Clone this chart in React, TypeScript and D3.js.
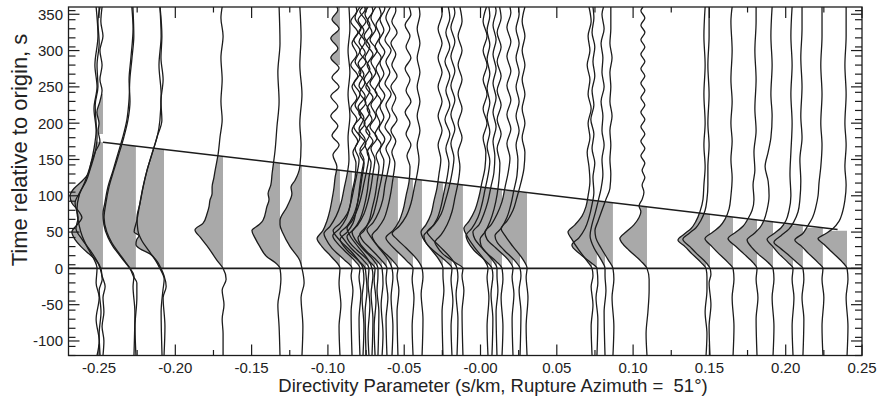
import React from 'react';
import * as d3 from 'd3';

// Axis extents (directivity parameter in s/km, time in s)
const X_DOMAIN: [number, number] = [-0.27, 0.25];
const Y_DOMAIN: [number, number] = [-120, 360];

const X_TICKS = [-0.25, -0.2, -0.15, -0.1, -0.05, 0, 0.05, 0.1, 0.15, 0.2, 0.25];
const X_TICK_LABELS = ['-0.25', '-0.20', '-0.15', '-0.10', '-0.05', '-0.00', '0.05', '0.10', '0.15', '0.20', '0.25'];
const X_MINOR = [-0.225, -0.175, -0.125, -0.075, -0.025, 0.025, 0.075, 0.125, 0.175, 0.225];
const Y_TICKS = [-100, -50, 0, 50, 100, 150, 200, 250, 300, 350];
const Y_MINOR_STEP = 12.5;

// Duration line: T(p) = T0 - L * p
const DURATION_T0 = 112;
const DURATION_SLOPE = 250;
const DURATION_LINE_P: [number, number] = [-0.2474, 0.234];

// One amplitude unit = AMP_UNIT s/km of leftward deflection
const AMP_UNIT = 0.0002;

// Station directivity parameters (s/km)
const TRACE_P = [
  -0.2474, -0.2493, -0.2513, -0.2258, -0.2271, -0.2074, -0.2087, -0.1687, -0.1314, -0.117,
  -0.0921, -0.0842,
  -0.079, -0.077, -0.075, -0.0731, -0.0711, -0.0691, -0.0672, -0.0645, -0.0613, -0.058, -0.0541,
  -0.0442, -0.0383,
  -0.0246, -0.0187, -0.0154, -0.0115,
  0.0049, 0.0075, 0.0108, 0.0141, 0.0213, 0.0259, 0.0305,
  0.0731, 0.0763, 0.0816, 0.0868,
  0.1091,
  0.1478, 0.1504, 0.1655, 0.1812, 0.1917, 0.2048, 0.2113, 0.2244, 0.2402,
];

// Relative source time functions: flat [time, amplitude, time, amplitude, ...]
const TRACE_KNOTS: number[][] = [
  [-120,0, -100,-3, -80,3, -60,-3, -40,0, -25,-7, -10,3, 0,7, 10,20, 20,46, 30,72, 40,92, 50,102, 60,85, 70,69, 80,82, 90,102, 100,108, 110,95, 120,69, 130,49, 145,39, 160,26, 175,10, 190,16, 200,13, 215,20, 230,10, 245,3, 260,10, 280,3, 300,10, 320,0, 340,7, 360,3],
  [-120,0, -90,3, -60,-3, -30,3, -15,-7, 0,0, 10,10, 25,33, 40,59, 55,79, 70,72, 90,82, 105,66, 120,46, 140,30, 160,16, 180,10, 200,13, 225,16, 250,7, 280,10, 310,3, 340,7, 360,0],
  [-120,0, -100,-7, -70,3, -40,-7, -20,3, 0,0, 15,13, 30,33, 45,49, 60,59, 80,66, 100,59, 120,39, 140,23, 165,10, 190,3, 220,10, 250,0, 280,7, 320,-3, 360,3],
  [-120,0, -80,3, -40,-3, -20,-3, -12,7, 0,20, 10,39, 21,59, 30,75, 43,92, 60,105, 75,108, 90,102, 112,92, 135,75, 158,59, 181,43, 204,30, 230,23, 260,20, 290,13, 320,7, 360,10],
  [-120,0, -60,-3, -25,3, -10,0, 0,13, 10,30, 21,49, 35,72, 50,89, 70,98, 90,92, 112,82, 135,66, 158,49, 181,33, 204,20, 230,13, 260,16, 290,10, 330,3, 360,7],
  [-120,0, -80,-3, -40,3, -25,-7, -10,0, 0,10, 10,23, 20,46, 27,79, 33,92, 40,89, 45,82, 50,98, 66,89, 90,79, 112,69, 135,56, 158,39, 181,23, 204,7, 230,10, 260,3, 290,10, 320,7, 360,13],
  [-120,0, -60,3, -30,-3, -15,-7, 0,7, 12,23, 24,43, 38,66, 52,79, 70,82, 90,72, 112,62, 135,49, 158,33, 181,16, 204,7, 240,3, 280,10, 320,3, 360,7],
  [-120,0, -90,0, -70,3, -50,-3, -30,3, -15,-10, 0,0, 11,20, 29,49, 43,75, 53,92, 62,66, 76,52, 85,46, 94,43, 103,36, 112,36, 125,30, 135,26, 158,16, 181,10, 205,3, 230,7, 260,3, 290,7, 320,0, 345,7, 360,3],
  [-120,0, -80,3, -50,7, -30,0, -15,-3, 0,0, 8,16, 16,43, 30,66, 42,82, 52,92, 60,69, 66,56, 85,43, 95,36, 103,39, 115,30, 130,26, 163,16, 195,10, 230,3, 270,7, 310,0, 360,3],
  [-120,0, -80,-3, -40,3, -20,-7, 0,0, 11,7, 30,39, 48,62, 60,72, 66,72, 85,49, 103,33, 112,36, 121,23, 140,7, 170,3, 200,7, 240,0, 280,7, 320,3, 360,7],
  [-120,0, -80,3, -50,-3, -20,3, 0,0, 15,26, 30,59, 41,75, 52,56, 65,43, 80,33, 95,26, 110,20, 125,16, 140,10, 156,23, 170,3, 183,26, 196,7, 210,30, 223,7, 237,30, 250,3, 263,26, 276,3, 290,30, 303,7, 317,30, 330,3, 343,26, 356,7, 360,10],
  [-120,0, -60,3, -30,-3, -10,3, 0,0, 12,26, 28,66, 40,85, 48,92, 58,72, 72,52, 90,36, 110,26, 130,16, 150,10, 180,13, 210,7, 240,13, 270,7, 300,13, 330,7, 360,10],
  [-120,0, -70,3, -35,-3, -12,3, 0,0, 10,16, 25,52, 35,75, 45,89, 55,66, 68,46, 85,33, 105,26, 125,16, 145,13, 160,23, 175,7, 190,26, 205,10, 220,30, 235,10, 250,26, 265,7, 280,30, 295,10, 310,26, 325,7, 340,30, 355,10, 360,13],
  [-120,0, -80,-3, -40,3, -15,-3, 0,0, 10,13, 25,43, 40,79, 52,98, 62,75, 75,52, 92,39, 110,30, 130,20, 150,13, 165,26, 180,10, 195,30, 210,7, 225,26, 240,10, 255,30, 270,7, 285,26, 300,10, 315,30, 330,7, 345,26, 360,10],
  [-120,0, -60,3, -30,-3, -10,0, 0,3, 10,23, 25,62, 40,85, 50,62, 62,43, 78,33, 95,26, 115,20, 135,13, 150,7, 163,20, 177,3, 192,23, 207,7, 222,26, 237,3, 252,23, 267,7, 282,26, 297,3, 312,23, 327,7, 342,26, 357,3, 360,5],
  [-120,0, -90,3, -50,-3, -20,3, 0,0, 12,20, 28,59, 40,82, 48,95, 58,72, 72,52, 88,39, 105,30, 125,23, 145,16, 158,30, 172,10, 186,33, 200,13, 214,33, 228,10, 242,30, 256,13, 270,33, 284,10, 298,30, 312,13, 326,33, 340,10, 354,30, 360,20],
  [-120,0, -70,-3, -35,3, -10,-3, 0,0, 12,13, 30,46, 45,72, 55,82, 65,66, 80,49, 98,36, 118,26, 138,16, 155,10, 170,23, 185,7, 200,26, 215,7, 230,23, 245,7, 260,26, 275,7, 290,23, 305,7, 320,26, 335,7, 350,23, 360,13],
  [-120,0, -80,3, -45,-3, -15,3, 0,0, 10,20, 25,59, 35,82, 44,92, 54,69, 68,49, 85,36, 105,26, 125,20, 145,13, 160,26, 175,7, 190,30, 205,10, 220,26, 235,7, 250,30, 265,10, 280,26, 295,7, 310,30, 325,10, 340,26, 355,7, 360,10],
  [-120,0, -60,-3, -30,3, -10,0, 0,0, 12,16, 28,52, 40,75, 50,85, 60,66, 75,46, 92,33, 112,23, 132,16, 150,10, 165,23, 180,3, 195,26, 210,7, 225,23, 240,3, 255,26, 270,7, 285,23, 300,3, 315,26, 330,7, 345,23, 360,7],
  [-120,0, -90,-3, -50,3, -20,-3, 0,0, 10,16, 24,52, 34,72, 42,79, 52,59, 65,43, 82,33, 100,23, 120,16, 140,10, 155,20, 170,3, 185,23, 200,7, 215,20, 230,3, 245,23, 260,7, 275,20, 290,3, 305,23, 320,7, 335,20, 350,3, 360,10],
  [-120,0, -70,3, -40,-3, -15,3, 0,0, 12,20, 28,56, 38,79, 47,89, 57,69, 70,49, 88,36, 108,26, 128,16, 148,10, 163,23, 178,7, 193,26, 208,10, 223,23, 238,7, 253,26, 268,10, 283,23, 298,7, 313,26, 328,10, 343,23, 358,7, 360,8],
  [-120,0, -80,-3, -40,3, -12,-3, 0,0, 12,13, 30,46, 43,69, 53,82, 63,62, 78,43, 95,30, 115,23, 135,13, 150,7, 165,20, 180,3, 195,23, 210,7, 225,20, 240,3, 255,23, 270,7, 285,20, 300,3, 315,23, 330,7, 345,20, 360,5],
  [-120,0, -60,3, -30,-3, -10,3, 0,0, 10,16, 25,52, 36,75, 45,85, 55,66, 68,46, 85,33, 105,23, 125,16, 145,10, 160,20, 175,7, 190,23, 205,3, 220,20, 235,7, 250,23, 265,3, 280,20, 295,7, 310,23, 325,3, 340,20, 355,7, 360,8],
  [-120,0, -80,3, -40,-3, -15,3, 0,0, 10,20, 25,56, 35,79, 42,89, 52,66, 65,46, 80,33, 100,23, 120,13, 140,10, 155,20, 170,7, 185,23, 200,10, 215,26, 230,7, 245,23, 260,10, 275,26, 290,7, 305,23, 320,10, 335,26, 350,7, 360,13],
  [-120,0, -70,-3, -35,3, -12,-3, 0,0, 12,16, 28,52, 40,82, 48,98, 58,75, 72,52, 90,36, 110,26, 130,16, 150,10, 170,16, 190,7, 210,16, 230,7, 250,16, 270,7, 290,16, 310,7, 330,16, 350,7, 360,10],
  [-120,0, -60,3, -30,-3, -10,0, 0,0, 12,13, 30,46, 42,66, 50,72, 60,56, 75,39, 92,30, 110,20, 130,13, 150,7, 170,16, 190,3, 210,16, 230,3, 250,16, 270,3, 290,16, 310,3, 330,16, 350,3, 360,5],
  [-120,0, -80,3, -45,-3, -15,3, 0,0, 10,20, 25,62, 35,85, 45,92, 55,69, 68,49, 85,36, 105,26, 125,16, 145,10, 165,20, 185,7, 205,23, 225,7, 245,20, 265,7, 285,23, 305,7, 325,20, 345,7, 360,12],
  [-120,0, -70,-3, -35,3, -12,-3, 0,0, 12,16, 30,56, 42,85, 50,98, 60,75, 75,52, 92,39, 112,26, 132,16, 152,10, 172,20, 192,7, 212,20, 232,7, 252,20, 272,7, 292,20, 312,7, 332,20, 352,7, 360,10],
  [-120,0, -60,3, -30,-3, -10,3, 0,0, 8,26, 20,66, 30,85, 36,92, 46,72, 60,52, 78,36, 98,26, 118,16, 140,10, 160,16, 180,3, 200,16, 220,3, 240,16, 260,3, 280,16, 300,3, 320,16, 340,3, 360,10],
  [-120,0, -80,3, -40,-3, -12,3, 0,0, 12,13, 30,46, 45,69, 55,79, 65,62, 80,43, 98,30, 118,20, 138,10, 160,7, 180,16, 200,3, 220,16, 240,3, 260,16, 280,3, 300,16, 320,3, 340,16, 360,5],
  [-120,0, -70,-3, -35,3, -10,-3, 0,0, 10,20, 25,59, 37,79, 45,85, 55,66, 70,46, 88,33, 108,23, 128,13, 148,7, 168,16, 188,7, 208,16, 228,7, 248,16, 268,7, 288,16, 308,7, 328,16, 348,7, 360,10],
  [-120,0, -60,3, -30,-3, -10,0, 0,0, 12,16, 28,49, 40,72, 50,79, 60,59, 75,43, 92,30, 112,20, 132,10, 155,7, 175,13, 195,3, 215,13, 235,3, 255,13, 275,3, 295,13, 315,3, 335,13, 355,3, 360,5],
  [-120,0, -80,-3, -40,3, -15,-3, 0,0, 10,20, 22,52, 32,69, 40,72, 50,56, 65,39, 82,26, 102,16, 122,10, 145,7, 165,16, 185,3, 205,16, 225,3, 245,16, 265,3, 285,16, 305,3, 325,16, 345,3, 360,8],
  [-120,0, -70,3, -35,-3, -12,3, 0,0, 12,16, 28,56, 40,85, 50,92, 60,72, 75,52, 92,36, 112,26, 132,16, 152,10, 172,20, 192,7, 212,20, 232,7, 252,20, 272,7, 292,20, 312,7, 332,20, 352,7, 360,10],
  [-120,0, -60,-3, -30,3, -10,-3, 0,0, 10,16, 25,52, 36,75, 45,82, 55,62, 70,43, 88,30, 108,20, 128,10, 150,7, 170,13, 190,3, 210,13, 230,3, 250,13, 270,3, 290,13, 310,3, 330,13, 350,3, 360,5],
  [-120,0, -80,3, -40,-3, -12,3, 0,0, 12,13, 30,46, 45,72, 55,85, 65,66, 80,46, 98,33, 118,20, 138,10, 160,7, 180,16, 200,7, 220,16, 240,7, 260,16, 280,7, 300,16, 320,7, 340,16, 360,7],
  [-120,0, -80,3, -50,-3, -25,3, -10,-3, 0,0, 10,16, 25,43, 40,66, 50,79, 60,56, 72,33, 85,20, 100,13, 120,7, 140,10, 160,16, 180,7, 200,13, 220,3, 240,13, 260,7, 280,16, 300,7, 320,13, 340,3, 360,10],
  [-120,0, -70,-3, -40,3, -20,-3, 0,0, 8,20, 20,56, 32,82, 42,59, 55,39, 70,26, 88,16, 105,10, 125,13, 145,7, 165,16, 185,10, 205,20, 225,10, 245,16, 265,7, 285,13, 305,7, 325,16, 345,10, 360,13],
  [-120,0, -60,3, -30,-3, -10,0, 0,0, 12,13, 28,36, 45,49, 60,43, 75,33, 92,23, 110,13, 130,7, 150,10, 170,3, 190,10, 210,7, 230,13, 250,3, 270,10, 290,7, 310,13, 330,3, 350,10, 360,5],
  [-120,0, -80,-3, -40,3, -15,-3, 0,0, 12,16, 28,39, 42,56, 52,59, 65,49, 80,36, 95,23, 110,10, 130,7, 150,10, 170,7, 190,10, 210,3, 230,10, 250,7, 270,10, 290,3, 310,10, 330,7, 360,7],
  [-120,0, -90,3, -60,-3, -30,-7, -15,-7, 0,0, 10,20, 25,59, 35,82, 41,89, 50,69, 60,43, 70,26, 78,20, 86,26, 95,16, 105,10, 115,16, 125,7, 135,16, 145,7, 155,20, 165,7, 175,20, 185,7, 195,20, 205,7, 215,20, 225,7, 235,20, 245,7, 255,20, 265,7, 275,20, 285,7, 295,20, 305,7, 315,20, 325,7, 335,20, 345,7, 355,20, 360,13],
  [-120,0, -90,-3, -60,3, -30,-3, -12,-3, 0,0, 8,16, 20,46, 30,69, 39,92, 47,72, 55,49, 65,33, 78,20, 95,10, 115,7, 140,3, 170,7, 200,3, 240,7, 280,3, 320,7, 360,3],
  [-120,0, -80,3, -50,-3, -20,3, -8,-3, 0,0, 8,13, 20,43, 30,66, 40,89, 48,69, 56,46, 66,30, 80,16, 95,10, 115,7, 140,7, 170,3, 200,7, 240,3, 280,7, 320,3, 360,3],
  [-120,0, -80,-3, -40,3, -15,-3, 0,0, 8,16, 20,46, 30,69, 41,92, 50,66, 58,43, 68,26, 82,13, 100,7, 125,3, 150,7, 175,3, 200,7, 230,3, 260,7, 300,3, 340,7, 360,3],
  [-120,0, -70,3, -40,-3, -15,3, 0,0, 8,13, 20,43, 30,69, 41,95, 50,69, 58,46, 68,30, 80,16, 95,10, 115,13, 135,7, 160,10, 190,3, 220,7, 260,3, 300,7, 340,3, 360,3],
  [-120,0, -80,-3, -40,3, -15,-3, 0,0, 8,16, 20,49, 30,72, 39,85, 48,62, 56,43, 66,30, 80,20, 100,13, 120,16, 140,26, 160,16, 180,7, 210,3, 240,7, 280,3, 320,7, 360,3],
  [-120,0, -80,3, -40,-3, -15,3, 0,0, 8,16, 20,46, 30,66, 40,85, 48,62, 56,39, 66,23, 80,13, 100,7, 130,10, 160,7, 200,3, 240,7, 280,3, 320,7, 360,3],
  [-120,0, -70,-3, -40,3, -15,-3, 0,0, 8,20, 20,52, 28,75, 36,95, 45,72, 54,46, 64,30, 78,16, 95,10, 120,7, 150,10, 180,3, 210,7, 250,3, 290,7, 330,3, 360,3],
  [-120,0, -80,3, -40,-3, -15,3, 0,0, 8,16, 20,46, 30,69, 39,92, 48,66, 57,52, 71,33, 85,23, 100,16, 117,13, 140,7, 170,3, 200,7, 240,3, 280,7, 320,3, 360,3],
  [-120,0, -80,-3, -40,3, -15,-3, 0,0, 9,16, 25,56, 33,75, 41,95, 48,69, 55,46, 65,26, 76,16, 94,7, 115,3, 140,7, 170,3, 200,7, 240,3, 280,7, 320,3, 360,3],
];

// Additional shaded windows [t0, t1] outside the main pulse, by trace index
const EXTRA_FILL: Record<number, [number, number]> = {
  0: [185, 240],
  10: [280, 360],
};

const W = 880;
const H = 403;
const M = { left: 68.5, right: 18, top: 7, bottom: 47.5 };
const FONT = '"Liberation Sans", Arial, Helvetica, sans-serif';
const INK = '#1c1c1c';
const SHADE = '#a9a9a9';

export default function App() {
  const x = d3.scaleLinear().domain(X_DOMAIN).range([M.left, W - M.right]);
  const y = d3.scaleLinear().domain(Y_DOMAIN).range([H - M.bottom, M.top]);
  const [x0, x1] = x.range();
  const [yb, yt] = y.range();

  const duration = (p: number) => DURATION_T0 - DURATION_SLOPE * p;

  const traces = TRACE_P.map((p, i) => {
    const k = TRACE_KNOTS[i];
    const pts: { t: number; a: number }[] = [];
    for (let j = 0; j < k.length; j += 2) pts.push({ t: k[j], a: k[j + 1] });
    return { p, pts };
  });

  const line = (p: number) =>
    d3
      .line<{ t: number; a: number }>()
      .x((d) => x(p - d.a * AMP_UNIT))
      .y((d) => y(d.t))
      .curve(d3.curveMonotoneY);

  const area = (p: number) =>
    d3
      .area<{ t: number; a: number }>()
      .y((d) => y(d.t))
      .x0(x(p))
      .x1((d) => x(p - d.a * AMP_UNIT))
      .curve(d3.curveMonotoneY);

  const yMinor: number[] = [];
  for (let v = Y_DOMAIN[0]; v <= Y_DOMAIN[1] + 1e-9; v += Y_MINOR_STEP) {
    if (!Y_TICKS.includes(v)) yMinor.push(v);
  }

  const windows = (i: number, p: number): [number, number][] => {
    const w: [number, number][] = [[0, duration(p)]];
    if (EXTRA_FILL[i]) w.push(EXTRA_FILL[i]);
    return w;
  };

  return (
    <svg
      width={W}
      height={H}
      style={{ position: 'absolute', left: 0, top: 0, background: '#fff' }}
      fontFamily={FONT}
    >
      <defs>
        <clipPath id="plot">
          <rect x={x0} y={yt} width={x1 - x0} height={yb - yt} />
        </clipPath>
        {traces.map((tr, i) =>
          windows(i, tr.p).map((w, j) => (
            <clipPath id={`fw-${i}-${j}`} key={`c${i}-${j}`}>
              <rect x={x0} y={y(w[1])} width={x(tr.p) - x0} height={y(w[0]) - y(w[1])} />
            </clipPath>
          ))
        )}
      </defs>

      <g clipPath="url(#plot)">
        {traces.map((tr, i) =>
          windows(i, tr.p).map((w, j) => (
            <path
              key={`f${i}-${j}`}
              d={area(tr.p)(tr.pts) || ''}
              fill={SHADE}
              stroke="none"
              clipPath={`url(#fw-${i}-${j})`}
            />
          ))
        )}
        {traces.map((tr, i) => (
          <path key={`l${i}`} d={line(tr.p)(tr.pts) || ''} fill="none" stroke={INK} strokeWidth={1.3} />
        ))}
        <line x1={x0} x2={x1} y1={y(0)} y2={y(0)} stroke={INK} strokeWidth={1.6} />
        <line
          x1={x(DURATION_LINE_P[0])}
          y1={y(duration(DURATION_LINE_P[0]))}
          x2={x(DURATION_LINE_P[1])}
          y2={y(duration(DURATION_LINE_P[1]))}
          stroke={INK}
          strokeWidth={1.5}
        />
      </g>

      {/* frame */}
      <rect x={x0} y={yt} width={x1 - x0} height={yb - yt} fill="none" stroke={INK} strokeWidth={1.3} />

      {/* x ticks, bottom and top */}
      {X_TICKS.map((v) => (
        <g key={`xt${v}`}>
          <line x1={x(v)} x2={x(v)} y1={yb} y2={yb - 11} stroke={INK} strokeWidth={1.2} />
          <line x1={x(v)} x2={x(v)} y1={yt} y2={yt + 11} stroke={INK} strokeWidth={1.2} />
        </g>
      ))}
      {X_MINOR.map((v) => (
        <g key={`xm${v}`}>
          <line x1={x(v)} x2={x(v)} y1={yb} y2={yb - 5.5} stroke={INK} strokeWidth={1.2} />
          <line x1={x(v)} x2={x(v)} y1={yt} y2={yt + 5.5} stroke={INK} strokeWidth={1.2} />
        </g>
      ))}
      {X_TICKS.map((v, i) => (
        <text key={`xl${v}`} x={x(v)} y={373} fontSize={15} textAnchor="middle" fill="#222">
          {X_TICK_LABELS[i]}
        </text>
      ))}

      {/* y ticks, left and right */}
      {Y_TICKS.map((v) => (
        <g key={`yt${v}`}>
          <line x1={x0} x2={x0 + 11} y1={y(v)} y2={y(v)} stroke={INK} strokeWidth={1.2} />
          <line x1={x1} x2={x1 - 11} y1={y(v)} y2={y(v)} stroke={INK} strokeWidth={1.2} />
        </g>
      ))}
      {yMinor.map((v) => (
        <g key={`ym${v}`}>
          <line x1={x0} x2={x0 + 7} y1={y(v)} y2={y(v)} stroke={INK} strokeWidth={1.2} />
          <line x1={x1} x2={x1 - 7} y1={y(v)} y2={y(v)} stroke={INK} strokeWidth={1.2} />
        </g>
      ))}
      {Y_TICKS.map((v) => (
        <text key={`yl${v}`} x={63} y={y(v)} dy="0.36em" fontSize={15} textAnchor="end" fill="#222">
          {v}
        </text>
      ))}

      <text x={493} y={392} fontSize={18.5} textAnchor="middle" fill="#222" style={{ whiteSpace: 'pre' }}>
        {'Directivity Parameter (s/km, Rupture Azimuth =  51°)'}
      </text>
      <text
        transform={`translate(27, 150) rotate(-90)`}
        fontSize={22}
        textAnchor="middle"
        fill="#222"
      >
        Time relative to origin, s
      </text>
    </svg>
  );
}
